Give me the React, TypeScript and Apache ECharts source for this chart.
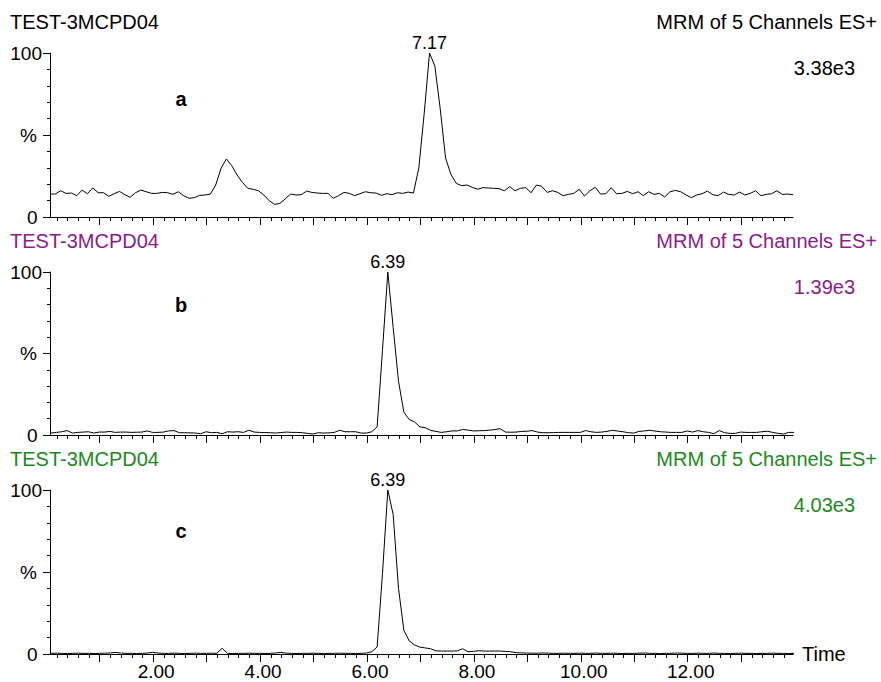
import React, { useEffect, useRef } from 'react';
import * as echarts from 'echarts';

// sampling grids (retention time, min), one scan every 0.1 min
const TIMES_A = Array.from({ length: 140 }, (_, i) => Math.round((0.07 + 0.1 * i) * 100) / 100);
const TIMES_BC = Array.from({ length: 140 }, (_, i) => Math.round((0.09 + 0.1 * i) * 100) / 100);

// relative intensity (%)
const VALUES_A = [
  14.0, 14.0, 16.0, 14.4, 14.6, 13.0, 16.4, 14.2, 17.7, 14.8,
  14.8, 12.6, 14.2, 15.6, 13.6, 12.0, 14.8, 16.4, 15.4, 14.4,
  14.4, 15.0, 14.8, 13.8, 15.4, 13.0, 11.4, 11.8, 13.2, 13.4,
  14.0, 19.5, 29.7, 35.4, 31.3, 25.6, 21.1, 17.5, 16.9, 16.0,
  13.4, 10.0, 7.7, 8.3, 11.0, 14.0, 13.4, 13.6, 15.8, 15.0,
  14.6, 14.4, 14.4, 11.4, 13.0, 15.0, 14.4, 13.0, 14.2, 15.4,
  14.8, 14.6, 13.2, 14.2, 13.6, 14.8, 14.4, 15.2, 14.6, 30.0,
  63.0, 100, 92.0, 66.0, 36.0, 26.0, 20.5, 19.1, 19.5, 18.1,
  16.9, 17.9, 17.7, 17.5, 17.3, 16.0, 18.5, 16.0, 17.5, 17.9,
  14.8, 19.5, 18.7, 15.0, 16.0, 15.0, 13.0, 13.8, 14.4, 16.9,
  12.8, 16.0, 18.1, 14.0, 14.2, 17.9, 14.2, 14.4, 15.6, 14.2,
  15.4, 13.0, 15.4, 13.8, 14.4, 12.2, 15.4, 16.2, 15.4, 13.4,
  11.8, 13.4, 14.2, 15.8, 13.6, 13.0, 15.2, 13.8, 13.4, 15.2,
  13.4, 14.4, 16.0, 13.0, 13.8, 14.2, 16.0, 13.8, 14.0, 13.6,
];

const VALUES_B = [
  1.2, 1.6, 2.0, 2.7, 1.2, 1.6, 1.8, 2.0, 1.2, 1.8,
  1.8, 2.2, 1.6, 1.8, 1.8, 1.6, 1.7, 1.8, 2.5, 1.6,
  1.6, 1.8, 2.5, 2.7, 1.4, 1.4, 1.3, 1.2, 0.8, 2.0,
  1.4, 1.6, 0.8, 2.0, 1.8, 2.0, 1.6, 2.9, 1.8, 1.6,
  1.5, 1.4, 1.2, 1.5, 1.8, 1.6, 1.6, 1.4, 1.0, 0.6,
  1.4, 1.2, 1.3, 1.6, 2.9, 2.0, 2.0, 2.0, 1.2, 1.2,
  2.0, 5.0, 52.0, 100, 66.0, 33.0, 14.0, 9.5, 8.0, 5.0,
  4.5, 2.8, 2.2, 1.6, 2.0, 2.5, 2.5, 3.4, 3.0, 2.5,
  2.6, 2.7, 3.0, 3.3, 3.9, 1.8, 1.7, 1.8, 2.2, 2.3,
  2.7, 1.8, 1.4, 1.4, 1.5, 1.6, 1.6, 1.6, 1.6, 1.6,
  2.7, 2.0, 1.6, 1.8, 2.2, 2.9, 2.4, 2.0, 1.4, 1.2,
  2.2, 2.5, 2.9, 2.4, 2.0, 1.8, 1.6, 1.6, 1.6, 2.5,
  1.8, 2.7, 2.0, 1.6, 0.8, 2.7, 1.4, 1.0, 1.0, 1.8,
  1.6, 1.6, 1.6, 2.0, 2.3, 1.6, 1.0, 0.6, 1.6, 1.6,
];

const VALUES_C = [
  0.4, 0.5, 0.4, 0.3, 0.4, 0.5, 0.4, 0.4, 0.3, 0.4,
  0.5, 0.6, 1.0, 0.6, 0.4, 0.4, 0.3, 0.4, 0.6, 1.0,
  0.6, 0.4, 0.4, 0.5, 0.4, 0.3, 0.4, 0.5, 0.4, 0.4,
  0.5, 0.4, 3.5, 0.4, 0.3, 0.4, 0.4, 0.5, 0.4, 0.4,
  0.3, 0.4, 0.6, 1.0, 0.5, 0.4, 0.3, 0.4, 0.4, 0.5,
  0.4, 0.3, 0.4, 0.4, 0.5, 0.4, 0.4, 0.3, 0.4, 0.6,
  1.4, 4.3, 49.0, 100, 85.0, 40.0, 14.4, 8.0, 5.5, 4.2,
  3.7, 3.2, 1.9, 1.8, 1.8, 1.8, 1.9, 3.2, 1.4, 1.6,
  2.0, 1.8, 1.8, 1.8, 1.8, 1.6, 1.4, 0.8, 0.7, 0.6,
  0.5, 0.5, 0.6, 0.5, 0.4, 0.4, 0.5, 0.4, 0.4, 0.5,
  0.4, 0.4, 0.6, 0.4, 0.4, 0.5, 0.4, 0.3, 0.4, 0.4,
  0.5, 0.6, 0.4, 0.4, 0.3, 0.4, 0.4, 0.6, 0.5, 0.4,
  0.4, 0.5, 0.4, 0.4, 0.6, 0.4, 0.4, 0.3, 0.4, 0.5,
  0.4, 0.4, 0.3, 0.4, 0.4, 0.5, 0.4, 0.4, 0.3, 0.4,
];

const PEAK_TIMES = [7.17, 6.39, 6.39];
const PEAK_LABELS = ['7.17', '6.39', '6.39'];
const SAMPLE_NAMES = ['TEST-3MCPD04', 'TEST-3MCPD04', 'TEST-3MCPD04'];
const FUNCTION_NAMES = ['MRM of 5 Channels ES+', 'MRM of 5 Channels ES+', 'MRM of 5 Channels ES+'];
const SCALE_LABELS = ['3.38e3', '1.39e3', '4.03e3'];
const PANEL_LETTERS = ['a', 'b', 'c'];
const X_MAJOR_TICKS = [1, 2, 3, 4, 5, 6, 7, 8, 9, 10, 11, 12, 13];
const X_TICK_LABELS = [2, 4, 6, 8, 10, 12];
const X_MIN = 0.07;
const X_MAX = 13.97;

const FONT = "'Liberation Sans', Arial, Helvetica, sans-serif";
const COLORS = ['#000000', '#8c1a8c', '#1b8a1b'];
const PANEL_TOPS = [53, 272, 490];
const PANEL_HEIGHTS = [164, 163, 164];
const GRID_LEFT = 50;
const GRID_WIDTH = 743;

const X_MINOR_TICKS: number[] = [];
for (let k = 1; k * 0.2 < X_MAX; k++) {
  if (k % 5 !== 0) X_MINOR_TICKS.push(Math.round(k * 20) / 100);
}

function txt(text: string, x: number, y: number, opts: any) {
  const align = opts.align || 'left';
  return {
    type: 'text',
    silent: true,
    style: {
      text,
      x,
      y,
      fill: opts.color || '#000',
      fontSize: opts.fontSize || 20,
      fontFamily: FONT,
      fontWeight: opts.fontWeight || 'normal',
      align,
      textAlign: align,
      verticalAlign: 'middle',
      textVerticalAlign: 'middle',
    },
  };
}

export default function App() {
  const ref = useRef<HTMLDivElement>(null);

  useEffect(() => {
    if (!ref.current) return;
    const chart = echarts.init(ref.current, undefined, { renderer: 'svg' });
    const seriesData = [
      TIMES_A.map((t, i) => [t, VALUES_A[i]]),
      TIMES_BC.map((t, i) => [t, VALUES_B[i]]),
      TIMES_BC.map((t, i) => [t, VALUES_C[i]]),
    ];

    const grids: any[] = [];
    const xAxes: any[] = [];
    const yAxes: any[] = [];
    const series: any[] = [];
    const graphics: any[] = [];

    for (let g = 0; g < 3; g++) {
      const top = PANEL_TOPS[g];
      grids.push({ left: GRID_LEFT, top, width: GRID_WIDTH, height: PANEL_HEIGHTS[g] });
      const isLast = g === 2;
      xAxes.push({
        type: 'value',
        gridIndex: g,
        min: X_MIN,
        max: X_MAX,
        position: 'bottom',
        offset: 0,
        axisLine: { show: true, onZero: false, lineStyle: { color: '#000', width: 1 } },
        axisTick: { show: true, length: 8, customValues: X_MAJOR_TICKS, lineStyle: { color: '#000', width: 1 } },
        axisLabel: isLast
          ? {
              show: true,
              customValues: X_TICK_LABELS,
              formatter: (v: number) => v.toFixed(2),
              fontSize: 19,
              fontFamily: FONT,
              color: '#000',
              margin: 8,
              padding: [0, 0, 0, 6],
            }
          : { show: false },
        splitLine: { show: false },
        name: isLast ? 'Time' : '',
        nameLocation: 'end',
        nameGap: 9,
        nameTextStyle: { fontSize: 20, fontFamily: FONT, color: '#000', align: 'left', verticalAlign: 'middle' },
      });
      xAxes.push({
        type: 'value',
        gridIndex: g,
        min: X_MIN,
        max: X_MAX,
        position: 'bottom',
        offset: 0,
        axisLine: { show: false, onZero: false },
        axisTick: { show: true, length: 4, customValues: X_MINOR_TICKS, lineStyle: { color: '#000', width: 1 } },
        axisLabel: { show: false },
        splitLine: { show: false },
      });
      const labStyle = { fontSize: 19, fontFamily: FONT, color: '#000' };
      yAxes.push({
        type: 'value',
        gridIndex: g,
        min: 0,
        max: 100,
        interval: 50,
        axisLine: { show: true, onZero: false, lineStyle: { color: '#000', width: 1 } },
        axisTick: { show: true, length: 7, lineStyle: { color: '#000', width: 1 } },
        minorTick: { show: true, splitNumber: 5, length: 3, lineStyle: { color: '#000', width: 1 } },
        splitLine: { show: false },
        minorSplitLine: { show: false },
        axisLabel: {
          margin: 8,
          ...labStyle,
          formatter: (v: number) => (v === 100 ? '{h|100}' : v === 50 ? '{p|%}' : '{z|0}'),
          rich: {
            h: { ...labStyle },
            p: { ...labStyle, padding: [0, 5, 0, 0] },
            z: { ...labStyle, padding: [0, 4.5, 0, 0] },
          },
        },
      });
      series.push({
        type: 'line',
        xAxisIndex: g * 2,
        yAxisIndex: g,
        data: seriesData[g],
        showSymbol: false,
        symbol: 'none',
        silent: true,
        lineStyle: { color: '#000', width: 1 },
        emphasis: { disabled: true },
        markPoint: {
          silent: true,
          symbol: 'circle',
          symbolSize: 2,
          itemStyle: { color: 'rgba(0,0,0,0)' },
          label: {
            show: true,
            position: 'inside',
            offset: [0, -10],
            formatter: () => PEAK_LABELS[g],
            fontSize: 18,
            fontFamily: FONT,
            color: '#000',
          },
          data: [{ coord: [PEAK_TIMES[g], 100] }],
        },
      });

      graphics.push(txt(SAMPLE_NAMES[g], 10, top - 31.5, { color: COLORS[g] }));
      graphics.push(txt(FUNCTION_NAMES[g], 877, top - 31.5, { color: COLORS[g], align: 'right' }));
      graphics.push(txt(SCALE_LABELS[g], 855, top + 14.5, { color: COLORS[g], align: 'right' }));
      const letterY = [top + 46.3, top + 33, top + 41][g];
      graphics.push(txt(PANEL_LETTERS[g], 181, letterY, { fontWeight: 'bold', align: 'center' }));
    }

    chart.setOption({
      animation: false,
      backgroundColor: '#ffffff',
      grid: grids,
      xAxis: xAxes,
      yAxis: yAxes,
      series,
      graphic: graphics,
    });
    return () => chart.dispose();
  }, []);

  return (
    <div
      ref={ref}
      style={{ position: 'fixed', left: 0, top: 0, width: 881, height: 682, background: '#fff' }}
    />
  );
}
